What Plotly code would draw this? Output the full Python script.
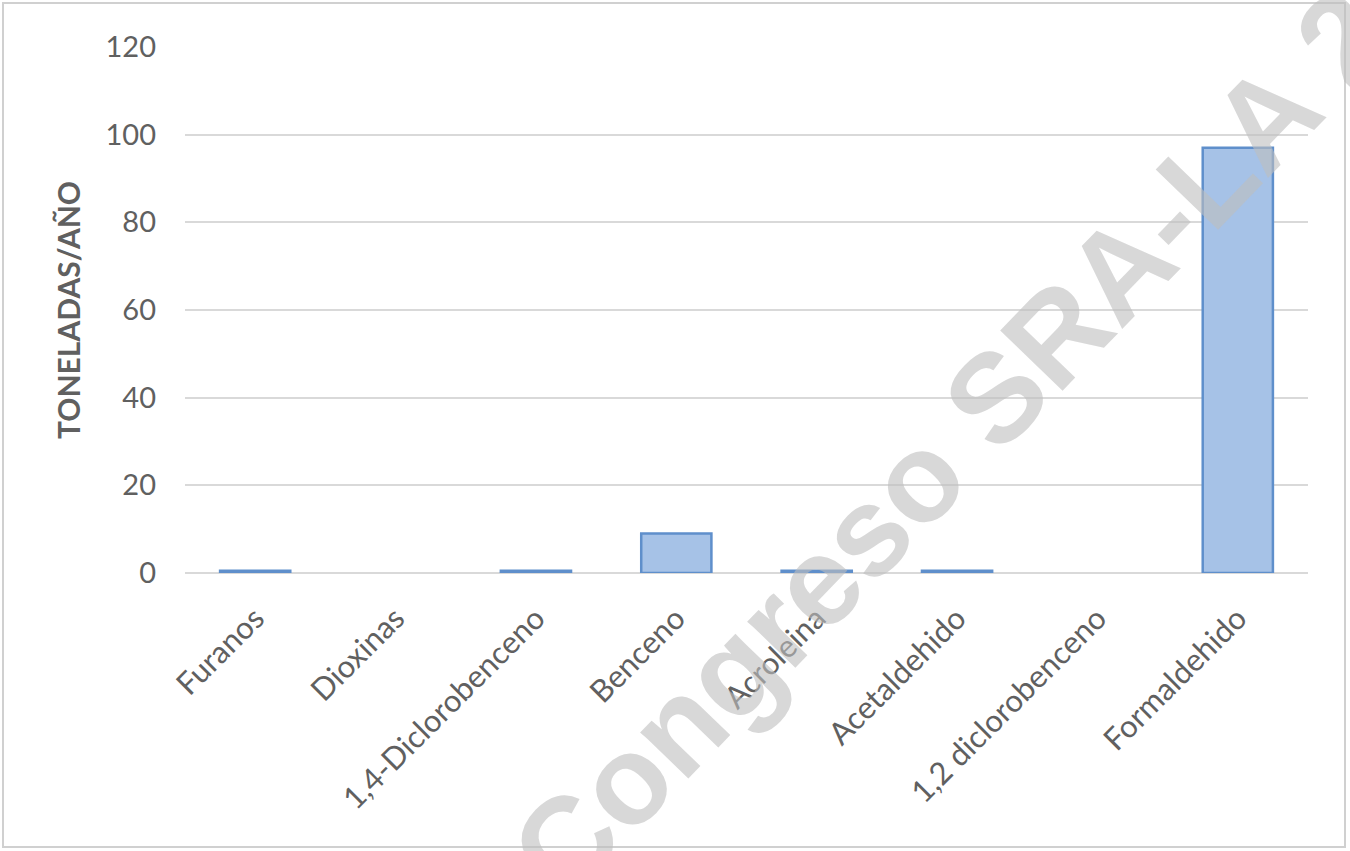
import plotly.graph_objects as go

categories = ["Furanos", "Dioxinas", "1,4-Diclorobenceno", "Benceno", "Acroleina",
              "Acetaldehido", "1,2 diclorobenceno", "Formaldehido"]
values = [0.5, 0, 0.5, 9, 0.5, 0.5, 0, 97]
y_ticks = [0, 20, 40, 60, 80, 100, 120]

W, H = 1350, 851
L, R, T, B = 185, 42, 47, 278
pw, ph = W - L - R, H - T - B

def px(x):
    return (x - L) / pw

def py(y):
    return (H - B - y) / ph

line_widths = [2.5 if v > 0 else 0 for v in values]

fig = go.Figure()
fig.add_trace(go.Bar(
    x=categories, y=values, width=0.5,
    marker=dict(color="#a6c2e7", line=dict(color="#5f8fcb", width=line_widths)),
))

fig.update_layout(
    width=W, height=H,
    margin=dict(l=L, r=R, t=T, b=B),
    paper_bgcolor="white", plot_bgcolor="white",
    showlegend=False,
    font=dict(family="Lato, 'Open Sans', sans-serif", color="#606060"),
    xaxis=dict(
        tickangle=-45, tickfont=dict(size=31, color="#606060"),
        showgrid=False, showline=False, ticks="", ticklabelstandoff=20,
    ),
    yaxis=dict(
        range=[0, 120], tickvals=y_ticks,
        tickfont=dict(size=29, color="#606060"),
        gridcolor="#d9d9d9", gridwidth=2,
        zeroline=True, zerolinecolor="#d9d9d9", zerolinewidth=2,
        showline=False, ticks="", ticklen=0, ticklabelstandoff=28,
        title=dict(text="<b>TONELADAS/AÑO</b>", font=dict(size=30, color="#606060"), standoff=16),
    ),
    shapes=[dict(type="rect", xref="paper", yref="paper",
                 x0=px(3), x1=px(1345), y0=py(847), y1=py(3),
                 line=dict(color="#d0d0d0", width=2), fillcolor="rgba(0,0,0,0)")],
    annotations=[dict(
        text="<b>Congreso SRA-LA 2</b>", xref="paper", yref="paper",
        x=px(950), y=py(444), xanchor="center", yanchor="middle",
        textangle=-46, showarrow=False,
        font=dict(family="Liberation Sans, Arial, sans-serif", size=126, color="rgba(190,190,190,0.6)"),
    )],
)

fig.write_html("out.html")
